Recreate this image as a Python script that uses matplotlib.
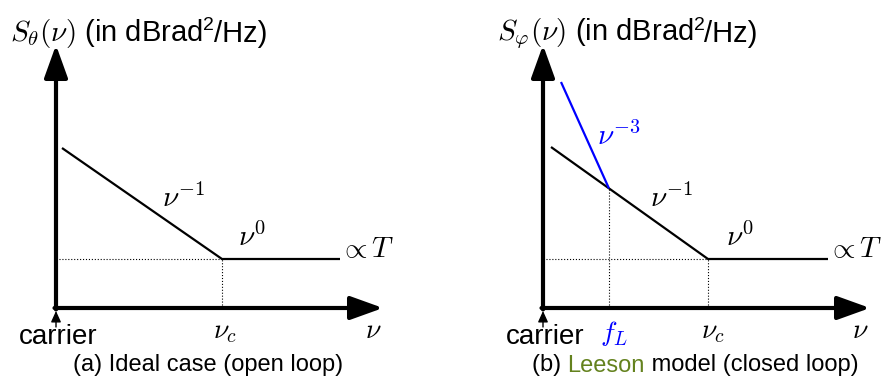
import matplotlib
matplotlib.use("Agg")
from matplotlib import pyplot as plt
from matplotlib.transforms import offset_copy

"""
Sketch of phase noise spectra: ideal case (open loop) and Leeson model (closed loop)
"""

plt.rcParams['font.family'] = ['Liberation Sans', 'DejaVu Sans']
plt.rcParams['mathtext.fontset'] = 'cm'

# panel (a): breakpoints of the black asymptote (x = offset freq, y = level)
ideal_x = [0.6, 16.6, 28.4]
ideal_y = [16.0, 4.9, 4.9]
ideal_nu_c = 16.6
ideal_floor = 4.9

# panel (b): black asymptote plus the blue nu^-3 segment
leeson_x = [0.8, 16.5, 28.5]
leeson_y = [16.1, 4.9, 4.9]
leeson_blue_x = [1.8, 6.6]
leeson_blue_y = [22.6, 11.95]
leeson_nu_c = 16.5
leeson_fL = 6.6
leeson_floor = 4.9

axis_x_end = 32.7
axis_y_end = 26.3


def chain_text(ax, x, y, parts, align='left'):
    """write several text pieces one after the other (parts: text, size, dy in pt, colour)"""
    r = ax.figure.canvas.get_renderer()
    texts = []
    for s, size, dy, c in parts:
        t = ax.text(0, 0, s, fontsize=size, color=c, ha='left', va='center')
        texts.append((t, dy))
    widths = [t.get_window_extent(r).width for t, _ in texts]
    total = sum(widths)
    x0_px, y0_px = ax.transData.transform((x, y))
    if align == 'center':
        x0_px -= total / 2
    inv = ax.transData.inverted()
    for (t, dy), w in zip(texts, widths):
        xd, yd = inv.transform((x0_px, y0_px))
        t.set_position((xd, yd))
        t.set_transform(offset_copy(ax.transData, fig=ax.figure, x=0, y=dy, units='points'))
        x0_px += w


def draw_axes(ax, ylabel, caption_parts):
    head = '-|>,head_length=1.0,head_width=0.36'
    ax.annotate('', xy=(axis_x_end, 0), xytext=(-0.15, 0), annotation_clip=False,
                arrowprops=dict(arrowstyle=head, lw=3, color='k',
                                shrinkA=0, shrinkB=0, mutation_scale=20))
    ax.annotate('', xy=(0, axis_y_end), xytext=(0, -0.15), annotation_clip=False,
                arrowprops=dict(arrowstyle=head, lw=3, color='k',
                                shrinkA=0, shrinkB=0, mutation_scale=20))
    # small "carrier" arrow
    ax.annotate('', xy=(0, -0.3), xytext=(0, -1.9), annotation_clip=False,
                arrowprops=dict(arrowstyle='-|>,head_length=0.55,head_width=0.25',
                                lw=1, color='k', shrinkA=0, shrinkB=0,
                                mutation_scale=12))
    ax.text(0.2, -2.85, 'carrier', fontsize=20, ha='center', va='center')
    ax.text(31.7, -2.3, r'$\nu$', fontsize=20, ha='center', va='center')
    chain_text(ax, -4.6, 27.4, [(ylabel + ' (in dBrad', 21, 0, 'k'),
                                ('2', 14, 6, 'k'),
                                ('/Hz)', 21, 0, 'k')])
    chain_text(ax, 15.2, -5.75, [(s, 17, 0, c) for s, c in caption_parts], align='center')


fig = plt.figure(figsize=(8.84, 3.79), dpi=100)
fig.canvas.draw()

# ---- panel (a)
ax1 = fig.add_axes([56 / 884, 71 / 379, 340 / 884, 270 / 379])
ax1.set_xlim(0, 34)
ax1.set_ylim(0, 27)
ax1.axis('off')
ax1.plot(ideal_x, ideal_y, color='k', lw=1.6, clip_on=False, solid_capstyle='butt')
ax1.plot([0, ideal_nu_c], [ideal_floor, ideal_floor], color='k', lw=0.8, ls=':', clip_on=False)
ax1.plot([ideal_nu_c, ideal_nu_c], [0, ideal_floor], color='k', lw=0.8, ls=':', clip_on=False)
ax1.text(12.7, 11.0, r'$\nu^{-1}$', fontsize=21, ha='center', va='center')
ax1.text(19.6, 7.1, r'$\nu^{0}$', fontsize=21, ha='center', va='center')
ax1.text(31.1, 5.9, r'$\propto T$', fontsize=21, ha='center', va='center')
ax1.text(ideal_nu_c + 0.3, -2.4, r'$\nu_c$', fontsize=20, ha='center', va='center')
draw_axes(ax1, r'$S_\theta(\nu)$', [('(a) Ideal case (open loop)', 'k')])

# ---- panel (b)
ax2 = fig.add_axes([543 / 884, 71 / 379, 340 / 884, 270 / 379])
ax2.set_xlim(0, 34)
ax2.set_ylim(0, 27)
ax2.axis('off')
ax2.plot(leeson_x, leeson_y, color='k', lw=1.6, clip_on=False, solid_capstyle='butt')
ax2.plot(leeson_blue_x, leeson_blue_y, color='#0000ff', lw=1.6, clip_on=False,
         solid_capstyle='butt')
ax2.plot([0, leeson_nu_c], [leeson_floor, leeson_floor], color='k', lw=0.8, ls=':', clip_on=False)
ax2.plot([leeson_nu_c, leeson_nu_c], [0, leeson_floor], color='k', lw=0.8, ls=':', clip_on=False)
ax2.plot([leeson_fL, leeson_fL], [0, leeson_blue_y[-1]], color='k', lw=0.8, ls=':', clip_on=False)
ax2.text(7.6, 17.2, r'$\nu^{-3}$', fontsize=21, color='#0000ff', ha='center', va='center')
ax2.text(12.8, 11.0, r'$\nu^{-1}$', fontsize=21, ha='center', va='center')
ax2.text(19.7, 7.1, r'$\nu^{0}$', fontsize=21, ha='center', va='center')
ax2.text(31.2, 5.9, r'$\propto T$', fontsize=21, ha='center', va='center')
ax2.text(leeson_nu_c + 0.5, -2.4, r'$\nu_c$', fontsize=20, ha='center', va='center')
ax2.text(7.1, -2.6, r'$f_L$', fontsize=20, color='#0000ff', ha='center', va='center')
draw_axes(ax2, r'$S_\varphi(\nu)$',
          [('(b) ', 'k'), ('Leeson', '#64821e'), (' model (closed loop)', 'k')])

plt.savefig('out.png', dpi=100)
